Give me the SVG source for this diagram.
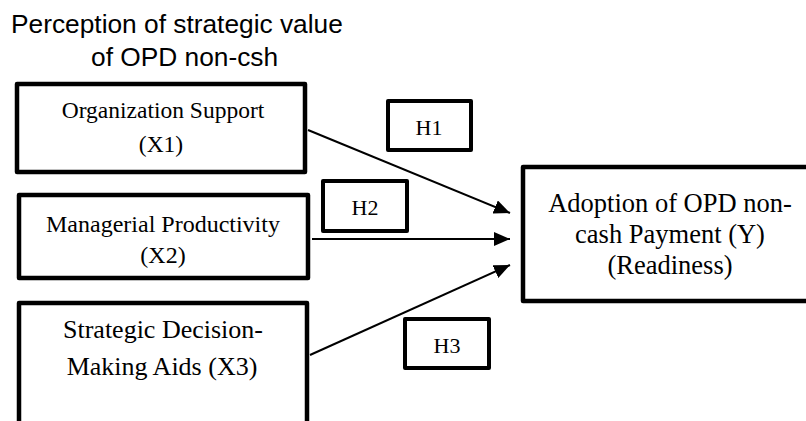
<svg xmlns="http://www.w3.org/2000/svg" width="806" height="421" viewBox="0 0 806 421">
<defs>
<style>
.box{fill:#fff;stroke:#000;stroke-width:4.5;stroke-linejoin:round}
.hbox{fill:#fff;stroke:#000;stroke-width:4;stroke-linejoin:round}
.serif{font-family:"Liberation Serif","Times New Roman",serif;fill:#000;text-anchor:middle}
.sans{font-family:"Liberation Sans",Arial,sans-serif;fill:#000;font-size:26.3px}
.conn{stroke:#000;stroke-width:2;fill:none}
</style>
<marker id="ah" markerUnits="userSpaceOnUse" markerWidth="16" markerHeight="14" refX="16" refY="7" orient="auto">
<path d="M0,0 L16,7 L0,14 z" fill="#000"/>
</marker>
</defs>
<rect width="806" height="421" fill="#fff"/>
<g id="title">
<text class="sans" x="11" y="33">Perception of strategic value</text>
<text class="sans" x="91" y="66">of OPD non-csh</text>
</g>
<g id="connectors">
<line class="conn" x1="308" y1="130" x2="510" y2="213" marker-end="url(#ah)"/>
<line class="conn" x1="312" y1="239" x2="510" y2="239" marker-end="url(#ah)"/>
<line class="conn" x1="310" y1="355" x2="510" y2="265" marker-end="url(#ah)"/>
</g>
<g id="x1">
<rect class="box" x="17" y="84" width="288" height="88"/>
<text class="serif" font-size="23.5" x="163" y="118">Organization Support</text>
<text class="serif" font-size="23.5" x="161" y="152">(X1)</text>
</g>
<g id="x2">
<rect class="box" x="19" y="195" width="289" height="83"/>
<text class="serif" font-size="24" x="163" y="232">Managerial Productivity</text>
<text class="serif" font-size="24" x="163" y="263">(X2)</text>
</g>
<g id="x3">
<rect class="box" x="19" y="303" width="288" height="130"/>
<text class="serif" font-size="26" x="163" y="338">Strategic Decision-</text>
<text class="serif" font-size="26" x="162" y="375">Making Aids (X3)</text>
</g>
<g id="y">
<rect class="box" x="523" y="167" width="300" height="134"/>
<text class="serif" font-size="26.5" x="670" y="212">Adoption of OPD non-</text>
<text class="serif" font-size="26.5" x="670" y="243">cash Payment (Y)</text>
<text class="serif" font-size="26.5" x="670" y="274">(Readiness)</text>
</g>
<g id="h1">
<rect class="hbox" x="388" y="101" width="83" height="49"/>
<text class="serif" font-size="22" x="429" y="135">H1</text>
</g>
<g id="h2">
<rect class="hbox" x="323" y="181" width="84" height="50"/>
<text class="serif" font-size="22" x="365" y="215">H2</text>
</g>
<g id="h3">
<rect class="hbox" x="405" y="319" width="84" height="49"/>
<text class="serif" font-size="22" x="447" y="353">H3</text>
</g>
</svg>
